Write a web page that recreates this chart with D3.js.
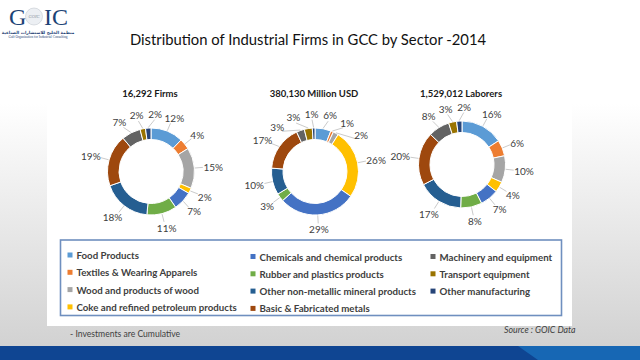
<!DOCTYPE html>
<html><head><meta charset="utf-8">
<script src="https://cdn.jsdelivr.net/npm/d3@7"></script>
<style>body{margin:0;background:#fff}svg{display:block}</style>
</head><body><svg id="c" width="640" height="360"></svg>
<script>
// ---------- DATA ----------
const sectors = ["Food Products","Textiles & Wearing Apparels","Wood and products of wood","Coke and refined petroleum products","Chemicals and chemical products","Rubber and plastics products","Other non-metallic mineral products","Basic & Fabricated  metals","Machinery and equipment","Transport equipment","Other manufacturing"];
const sectorColors = ["#5B9BD5","#ED7D31","#A5A5A5","#FFC000","#4472C4","#70AD47","#255E91","#9E480E","#636363","#997300","#264478"];
const firmsPct = [12,4,15,2,7,11,18,19,7,2,2];
const investmentPct = [6,1,2,26,29,3,10,17,3,3,1];
const laborersPct = [16,6,10,4,7,8,17,20,8,3,2];
const chartTitles = ["16,292 Firms","380,130 Million USD","1,529,012 Laborers"];
const mainTitle = "Distribution of Industrial Firms in GCC by Sector -2014";
const footNote = "- Investments are Cumulative";
const sourceNote = "Source : GOIC Data";

// ---------- LAYOUT ----------
const svg = d3.select("#c");
const W = 640, H = 360;
const defs = svg.append("defs");
const bg = defs.append("linearGradient").attr("id","bg").attr("x1",0).attr("y1",0).attr("x2",0).attr("y2",1);
bg.append("stop").attr("offset","0.3").attr("stop-color","#ffffff");
bg.append("stop").attr("offset","1").attr("stop-color","#d2d2d2");
svg.append("rect").attr("width",W).attr("height",346).attr("fill","url(#bg)");
// white panel
svg.append("rect").attr("x",47).attr("y",50).attr("width",525).attr("height",276).attr("fill","#fff");
// bottom band
svg.append("rect").attr("x",0).attr("y",346).attr("width",W).attr("height",14).attr("fill","#0f4592");
svg.append("polygon").attr("points","518,346 640,346 640,360 538,360").attr("fill","#1767b4");

// logo
const logo = svg.append("g");
logo.append("text").attr("x",9).attr("y",24.5).attr("font-family","Liberation Serif").attr("font-size",24).attr("fill","#1d4375").text("G");
logo.append("circle").attr("cx",34).attr("cy",16.5).attr("r",8.5).attr("fill","#eceff3").attr("stroke","#c4c9d0").attr("stroke-width",0.6);
logo.append("text").attr("x",34).attr("y",18).attr("text-anchor","middle").attr("font-family","Liberation Serif").attr("font-style","italic").attr("font-size",4.5).attr("fill","#8a93a0").text("GOIC");
logo.append("text").attr("x",44).attr("y",24.5).attr("font-family","Liberation Serif").attr("font-size",24).attr("fill","#1d4375").text("IC");
logo.append("text").attr("x",38).attr("y",33.5).attr("text-anchor","middle").attr("font-family","DejaVu Sans").attr("font-weight","bold").attr("font-size",4.2).attr("fill","#1d4375").text("منظمة الخليج للاستشارات الصناعية");
logo.append("text").attr("x",38).attr("y",37.5).attr("text-anchor","middle").attr("font-family","Liberation Serif").attr("font-size",3.4).attr("fill","#1d4375").text("Gulf Organization for Industrial Consulting");

// main title
svg.append("text").attr("x",308).attr("y",45).attr("text-anchor","middle")
  .attr("font-family","Lato").attr("font-size",14.8).attr("fill","#111").text(mainTitle);

// ---------- DONUTS ----------
const datasets = [firmsPct, investmentPct, laborersPct];
const centers = [[151,171.5],[315,171.5],[462,164.5]];
const rOuter = 43.5, rInner = 32;
const pie = d3.pie().sort(null).value(d => d);
const arc = d3.arc().innerRadius(rInner).outerRadius(rOuter);
const minGap = 18 * Math.PI/180;

function spread(angles){
  const a = angles.slice();
  const n = a.length;
  for (let it=0; it<200; it++){
    for (let i=0;i<n;i++){
      const j=(i+1)%n;
      let aj = a[j]; if (j===0) aj += 2*Math.PI;
      const gap = aj - a[i];
      if (gap < minGap){
        const d = (minGap-gap)/2;
        a[i] -= d; a[j] = (j===0 ? aj + d - 2*Math.PI : a[j] + d);
      }
    }
  }
  return a;
}

datasets.forEach((data, k) => {
  const [cx, cy] = centers[k];
  const g = svg.append("g").attr("transform",`translate(${cx},${cy})`);
  const arcs = pie(data);
  g.selectAll("path.slice").data(arcs).join("path").attr("class","slice")
    .attr("d", arc).attr("fill",(d,i)=>sectorColors[i])
    .attr("stroke","#fff").attr("stroke-width",1);
  const mids = arcs.map(d => (d.startAngle+d.endAngle)/2);
  const labAng = spread(mids);
  arcs.forEach((d,i) => {
    const m = mids[i], t = labAng[i];
    const txt = d.data + "%";
    const w = txt.length * 5.6, h = 10;
    const ra = 53;
    const ax = ra*Math.sin(t), ay = -ra*Math.cos(t);
    const tx = ax + Math.sin(t)*(w/2+1), ty = ay - Math.cos(t)*(h/2);
    g.append("line")
      .attr("x1", (rOuter+0.5)*Math.sin(m)).attr("y1", -(rOuter+0.5)*Math.cos(m))
      .attr("x2", (ra-1)*Math.sin(t)).attr("y2", -(ra-1)*Math.cos(t))
      .attr("stroke","#b3b3b3").attr("stroke-width",0.7);
    g.append("text").attr("x",tx).attr("y",ty).attr("text-anchor","middle").attr("dominant-baseline","central")
      .attr("font-family","Lato").attr("font-size",10).attr("fill","#404040").text(txt);
  });
  svg.append("text").attr("x",cx-1).attr("y",97).attr("text-anchor","middle")
    .attr("font-family","Lato").attr("font-weight","bold").attr("font-size",9.5).attr("fill","#1a1a1a").text(chartTitles[k]);
});

// ---------- LEGEND ----------
svg.append("rect").attr("x",60.5).attr("y",240).attr("width",501).attr("height",75.5)
  .attr("fill","#fff").attr("stroke","#6f8fbf").attr("stroke-width",1.6);
const colX = [67.5, 250.5, 430.5];
const perCol = [4,4,3];
let idx = 0;
perCol.forEach((n,c) => {
  for (let r=0;r<n;r++){
    const y = 255 + r*17.3 + (c>0?1.5:0);
    const i = idx++;
    svg.append("rect").attr("x",colX[c]).attr("y",y-2.5).attr("width",5).attr("height",5).attr("fill",sectorColors[i]);
    svg.append("text").attr("x",colX[c]+9).attr("y",y).attr("dominant-baseline","central")
      .attr("font-family","Lato").attr("font-weight","bold").attr("font-size",9.7).attr("fill","#404040").text(sectors[i]);
  }
});

// footer
svg.append("text").attr("x",70).attr("y",337).attr("font-family","Lato").attr("font-size",8.6).attr("fill","#404040").text(footNote);
svg.append("text").attr("x",504).attr("y",333).attr("font-family","Lato").attr("font-style","italic").attr("font-size",8.8).attr("fill","#404040").text(sourceNote);
</script></body></html>
